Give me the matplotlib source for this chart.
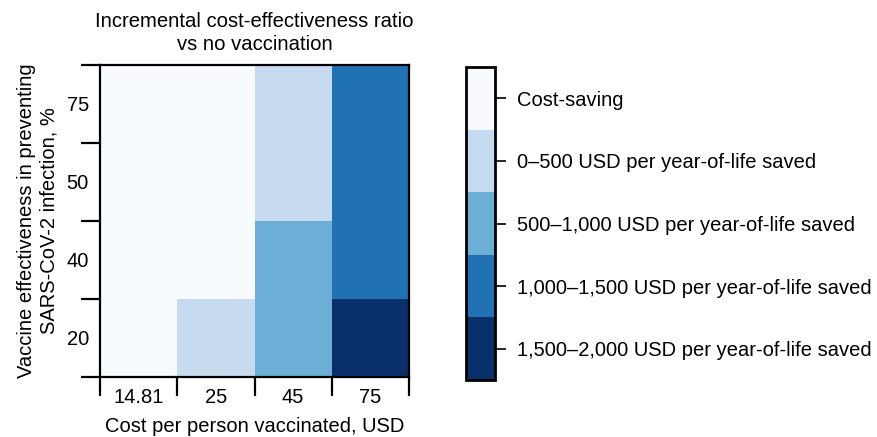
import numpy as np
import matplotlib
matplotlib.use('Agg')
import matplotlib.pyplot as plt
from matplotlib.colors import ListedColormap, BoundaryNorm

costs = ['14.81', '25', '45', '75']
effectiveness = ['20', '40', '50', '75']
# ICER category per cell, rows bottom (20%) to top (75%)
# 0 cost-saving, 1 0-500, 2 500-1000, 3 1000-1500, 4 1500-2000
icer_level = np.array([
    [0, 1, 2, 4],
    [0, 0, 2, 3],
    [0, 0, 1, 3],
    [0, 0, 1, 3],
])
level_labels = ['Cost-saving',
                '0\u2013500 USD per year-of-life saved',
                '500\u20131,000 USD per year-of-life saved',
                '1,000\u20131,500 USD per year-of-life saved',
                '1,500\u20132,000 USD per year-of-life saved']
level_colors = ['#f7fbff', '#c6dbef', '#6baed6', '#2171b5', '#08306b']

plt.rcParams['font.family'] = 'Liberation Sans'
plt.rcParams['font.size'] = 14.5

cmap = ListedColormap(level_colors)
norm = BoundaryNorm(np.arange(-0.5, len(level_colors)), cmap.N)

fig = plt.figure(figsize=(8.77, 4.37), dpi=100)
ax = fig.add_axes([0.114, 0.1373, 0.3524, 0.714])
mesh = ax.pcolormesh(np.arange(len(costs) + 1), np.arange(len(effectiveness) + 1),
                     icer_level, cmap=cmap, norm=norm)

lw = 1.6
for s in ax.spines.values():
    s.set_linewidth(lw)

# ticks on cell edges, labels at cell centres
ax.set_xticks(np.arange(len(costs) + 1))
ax.set_xticklabels([])
ax.set_yticks(np.arange(len(effectiveness) + 1))
ax.set_yticklabels([])
ax.set_xticks(np.arange(len(costs)) + 0.5, minor=True)
ax.set_xticklabels(costs, minor=True)
ax.set_yticks(np.arange(len(effectiveness)) + 0.5, minor=True)
ax.set_yticklabels(effectiveness, minor=True)
ax.tick_params(which='major', length=14, width=lw)
ax.tick_params(which='minor', length=0, pad=8, labelsize=14.5)

ax.set_xlabel('Cost per person vaccinated, USD', labelpad=7)
ax.set_ylabel('Vaccine effectiveness in preventing\nSARS-CoV-2 infection, %',
              labelpad=6, linespacing=1.2)
ax.set_title('Incremental cost-effectiveness ratio\nvs no vaccination',
             fontsize=14.6, pad=11, linespacing=1.25)

cax = fig.add_axes([0.531, 0.1304, 0.033, 0.716])
cb = fig.colorbar(mesh, cax=cax, ticks=np.arange(len(level_colors)))
cb.ax.set_yticklabels(level_labels)
cb.ax.minorticks_off()
cb.ax.invert_yaxis()
cb.outline.set_linewidth(lw + 0.4)
cb.ax.tick_params(length=8, width=1.2, pad=8, labelsize=14.5)

fig.savefig('out.png', dpi=100)
